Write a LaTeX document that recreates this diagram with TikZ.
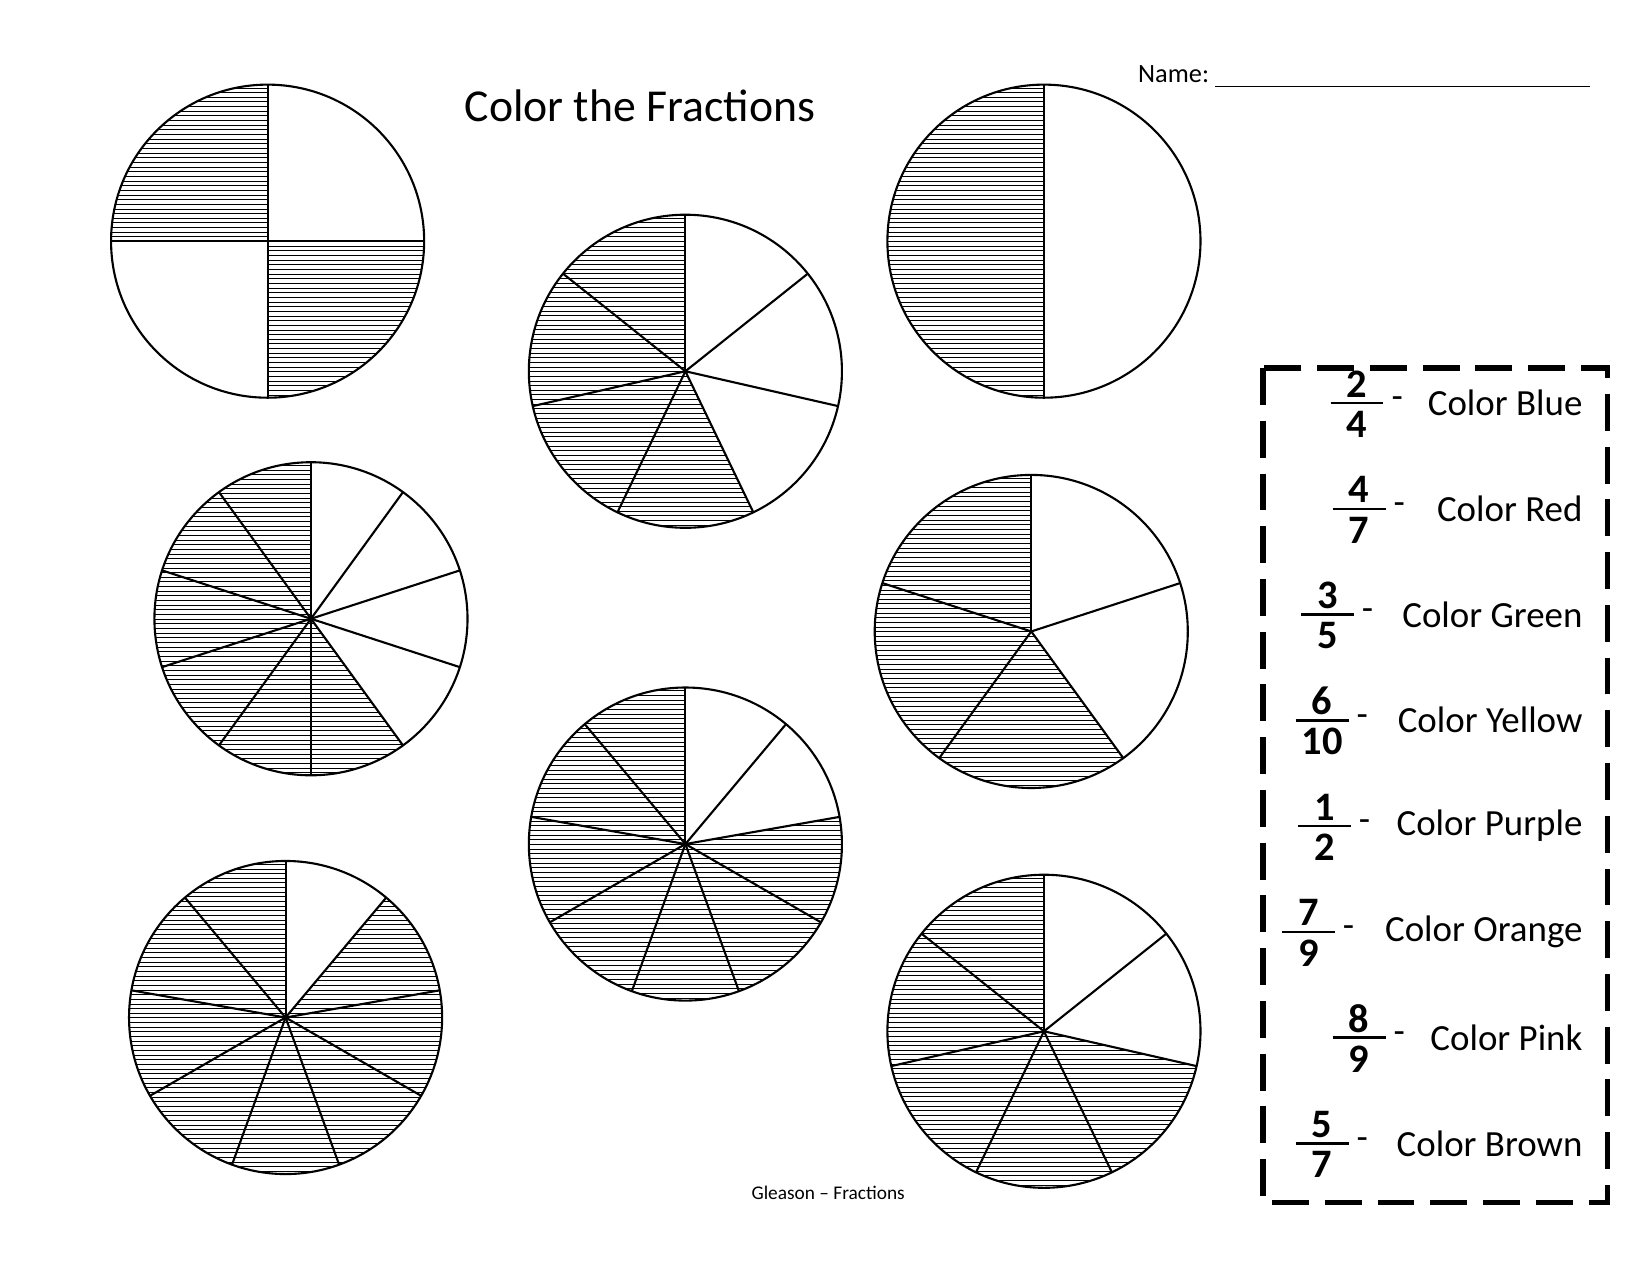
\documentclass[tikz,border=0pt]{standalone}
\usepackage{fontspec}
\setmainfont{Carlito}
\usetikzlibrary{calc}

\tikzset{
    pieline/.style={line width=1.2pt, black},
    hatch/.style={line width=0.55pt, black},
    title/.style={font=\fontsize{26}{30}\selectfont},
    colortext/.style={font=\fontsize{21}{25}\selectfont, anchor=east},
    digit/.style={font=\fontsize{23}{25}\selectfont\bfseries, inner sep=0pt},
    legendbox/.style={line width=3pt, dash pattern=on 21pt off 9pt}
}

% name, cx, cy, parts, shaded sector numbers
\newcommand\fracpie[5]{%
    \coordinate (#1) at (#2,-#3);
    \foreach \i in {#5}{%
        \begin{scope}
            \clip (#1) -- ++({90+(\i-1)*360/#4}:3.13cm)
                arc[start angle={90+(\i-1)*360/#4}, end angle={90+\i*360/#4}, radius=3.13cm] -- cycle;
            \foreach \yy in {-150,-145.6,...,150}
                \draw[hatch] ($(#1)+(-150,\yy)$) -- ++(300,0);
        \end{scope}
    }
    \draw[pieline] (#1) circle[radius=3.13cm];
    \foreach \i in {1,...,#4}
        \draw[pieline] (#1) -- ++({90+\i*360/#4}:3.13cm);
}

% name, y, fraction x, numerator, denominator, text
\newcommand\legendrow[6]{%
    \node[digit] (#1n) at (#3,-#2+18) {#4};
    \node[digit] (#1d) at (#3,-#2-20) {#5};
    \coordinate (#1l) at (#3-25,-#2);
    \coordinate (#1r) at (#3+25,-#2);
    \draw[line width=1.4pt] (#1l) -- (#1r);
    \node[font=\fontsize{21}{25}\selectfont] (#1m) at (#3+38,-#2) {-};
    \node[colortext] (#1t) at (1502,-#2) {#6};
}

\begin{document}
\begin{tikzpicture}[x=0.021154cm, y=0.021154cm]
\useasboundingbox (0,0) rectangle (1560,-1206);

% Title and name line
\node[title] (ttl) at (605,-100) {Color the Fractions};
\node[font=\fontsize{15}{18}\selectfont, anchor=base east] (nm) at (1149,-78) {Name:};
\coordinate (nl) at (1149,-82);
\coordinate (nr) at (1503,-82);
\draw[line width=0.8pt] (nl) -- (nr);

% Pies
\fracpie{p1}{253}{228}{4}{1,3}
\fracpie{p2}{648}{351}{7}{1,2,3,4}
\fracpie{p3}{987}{228}{2}{1}
\fracpie{p4}{294}{585}{10}{1,2,3,4,5,6}
\fracpie{p5}{975}{597}{5}{1,2,3}
\fracpie{p6}{648}{798}{9}{1,2,3,4,5,6,7}
\fracpie{p7}{270}{962}{9}{1,2,3,4,5,6,7,8}
\fracpie{p8}{987}{975}{7}{1,2,3,4,5}

% Legend
\coordinate (b1) at (1194,-348);
\coordinate (b2) at (1520,-1137);
\draw[legendbox] (b1) rectangle (b2);
\legendrow{r1}{381}{1283}{2}{4}{Color Blue}
\legendrow{r2}{481}{1285}{4}{7}{Color Red}
\legendrow{r3}{581}{1255}{3}{5}{Color Green}
\legendrow{r4}{681}{1250}{6}{10}{Color Yellow}
\legendrow{r5}{781}{1252}{1}{2}{Color Purple}
\legendrow{r6}{881}{1237}{7}{9}{Color Orange}
\legendrow{r7}{981}{1285}{8}{9}{Color Pink}
\legendrow{r8}{1081}{1250}{5}{7}{Color Brown}

% Footer
\node[font=\fontsize{11}{13}\selectfont] (ft) at (783,-1128) {Gleason -- Fractions};
\end{tikzpicture}
\end{document}
